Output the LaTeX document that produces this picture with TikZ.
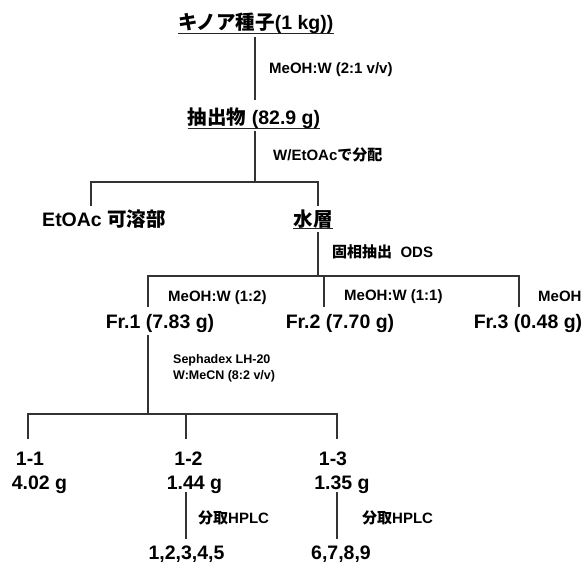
\documentclass[tikz,border=0pt]{standalone}
\usepackage{fontspec}
\setmainfont{Liberation Sans}
\newfontfamily\jp{Noto Sans CJK JP}
\begin{document}
\begin{tikzpicture}[x=1pt,y=-1pt,
  big/.style={font=\fontsize{19.5}{22}\selectfont\bfseries, inner sep=0pt, anchor=base},
  mid/.style={font=\fontsize{15}{17}\selectfont\bfseries, inner sep=0pt, anchor=base west},
  sml/.style={font=\fontsize{12.5}{15}\selectfont\bfseries, inner sep=0pt, anchor=base west},
  conn/.style={draw=black!80, line width=1.2pt},
  uline/.style={draw=black!85, line width=1.1pt}]
\useasboundingbox (0,0) rectangle (587,563);

% main nodes
\node[big] (seed) at (256,29) {{\jp キノア種子}(1 kg))};
\node[big] (ext) at (254,124) {{\jp 抽出物} (82.9 g)};
\node[big] (etoac) at (104,226) {EtOAc {\jp 可溶部}};
\node[big] (aq) at (313,226) {\jp 水層};
\node[big] (fr1) at (160,328) {Fr.1 (7.83 g)};
\node[big] (fr2) at (340,328) {Fr.2 (7.70 g)};
\node[big] (fr3) at (528,328) {Fr.3 (0.48 g)};
\node[big] (s1) at (30,465) {1-1};
\node[big] (w1) at (39.5,489) {4.02 g};
\node[big] (s2) at (188.5,465) {1-2};
\node[big] (w2) at (194.5,489) {1.44 g};
\node[big] (s3) at (333,465) {1-3};
\node[big] (w3) at (342,489) {1.35 g};
\node[big] (c1) at (186.5,559) {1,2,3,4,5};
\node[big] (c2) at (341,559) {6,7,8,9};

% labels
\node[mid] (l1) at (269,73.5) {MeOH:W (2:1 v/v)};
\node[mid] (l2) at (273,160.5) {W/EtOAc{\jp で分配}};
\node[mid] (l3) at (332,257.5) {{\jp 固相抽出}\ \ ODS};
\node[mid] (l4) at (168,301.5) {MeOH:W (1:2)};
\node[mid] (l5) at (344,300) {MeOH:W (1:1)};
\node[mid] (l6) at (538,301.5) {MeOH};
\node[sml] (l7) at (173,363.5) {Sephadex LH-20};
\node[sml] (l8) at (173,379.5) {W:MeCN (8:2 v/v)};
\node[mid] (l9) at (198,523.5) {{\jp 分取}HPLC};
\node[mid] (l10) at (362,523.5) {{\jp 分取}HPLC};

% underlines
\draw[uline] ([yshift=-4.5pt]seed.base west) -- ([yshift=-4.5pt]seed.base east);
\draw[uline] ([yshift=-4.5pt]ext.base west) -- ([yshift=-4.5pt]ext.base east);
\draw[uline] ([yshift=-2.5pt]aq.base west) -- ([yshift=-2.5pt]aq.base east);

% junction coordinates
\coordinate (seedout) at (255,37);
\coordinate (extin) at (255,100);
\coordinate (extout) at (255,131);
\coordinate (j1) at (255,182);
\coordinate (j1l) at (91,182);
\coordinate (j1r) at (318,182);
\coordinate (etin) at (91,206);
\coordinate (aqin) at (318,206);
\coordinate (aqout) at (318,232);
\coordinate (j2) at (318,276);
\coordinate (j2l) at (148,276);
\coordinate (j2m) at (324,276);
\coordinate (j2r) at (519,276);
\coordinate (fr1in) at (148,307);
\coordinate (fr2in) at (324,307);
\coordinate (fr3in) at (519,307);
\coordinate (fr1out) at (148,335);
\coordinate (j3) at (148,414);
\coordinate (j3l) at (28,414);
\coordinate (j3m) at (186,414);
\coordinate (j3r) at (337,414);
\coordinate (s1in) at (28,439);
\coordinate (s2in) at (186,439);
\coordinate (s3in) at (337,439);
\coordinate (w2out) at (186,492);
\coordinate (c1in) at (186,539);
\coordinate (w3out) at (337,492);
\coordinate (c2in) at (337,539);

% connectors
\draw[conn] (seedout) -- (extin);
\draw[conn] (extout) -- (j1);
\draw[conn] (etin) -- (j1l) -- (j1r) -- (aqin);
\draw[conn] (aqout) -- (j2);
\draw[conn] (fr1in) -- (j2l) -- (j2r) -- (fr3in);
\draw[conn] (j2m) -- (fr2in);
\draw[conn] (fr1out) -- (j3);
\draw[conn] (s1in) -- (j3l) -- (j3r) -- (s3in);
\draw[conn] (j3m) -- (s2in);
\draw[conn] (w2out) -- (c1in);
\draw[conn] (w3out) -- (c2in);
\end{tikzpicture}
\end{document}
